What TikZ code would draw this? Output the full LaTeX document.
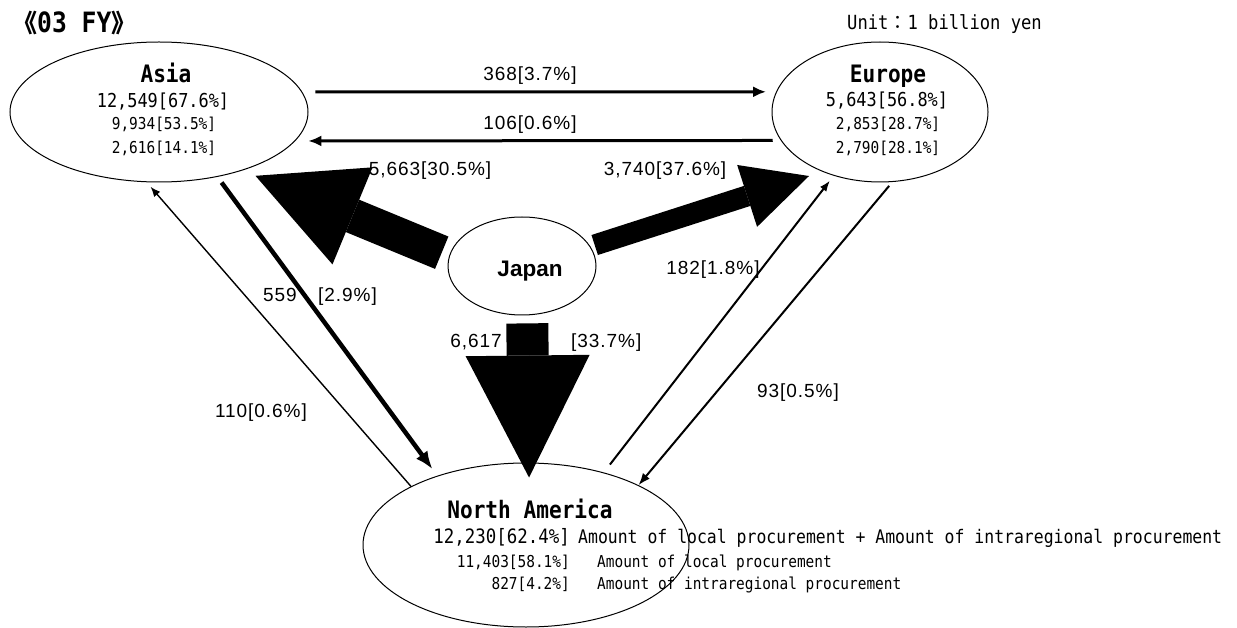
\documentclass[tikz,border=0pt]{standalone}
\usepackage{fontspec}
\usetikzlibrary{arrows.meta,shapes.geometric}
\setmainfont{Liberation Sans}
\newfontfamily\gothic[FakeStretch=0.88]{DejaVu Sans Mono}
\newfontfamily\arialsp[LetterSpace=5]{Liberation Sans}
\newfontfamily\cjk{Noto Sans CJK JP}
\begin{document}
\begin{tikzpicture}[x=1pt,y=-1pt,
  region/.style={ellipse, draw, line width=1pt, inner sep=0pt},
  lbl/.style={inner sep=0pt, anchor=base, font=\arialsp\fontsize{19}{19}\selectfont},
  title/.style={inner sep=0pt, anchor=base, font=\gothic\bfseries\fontsize{24}{24}\selectfont},
  bignum/.style={inner sep=0pt, anchor=base, font=\gothic\fontsize{19.2}{19.2}\selectfont},
  smallnum/.style={inner sep=0pt, anchor=base, font=\gothic\fontsize{16.4}{16.4}\selectfont},
  bigflow/.style={line width=#1, draw=black},
  thin/.style={line width=#1, draw=black}
]
\useasboundingbox (0,0) rectangle (1237,628);

% regions
\node[region, minimum width=298pt, minimum height=140pt] (asia) at (159,112) {};
\node[region, minimum width=216pt, minimum height=140pt] (eur) at (880,112) {};
\node[region, minimum width=148pt, minimum height=98pt] (japan) at (522,266) {};
\node[region, minimum width=326pt, minimum height=164pt] (na) at (526,545) {};

% headings
\node[inner sep=0pt, anchor=base west] (fy) at (12,33)
  {{\cjk\bfseries\fontsize{25}{25}\selectfont 《}{\gothic\bfseries\fontsize{28}{28}\selectfont 03 FY}{\cjk\bfseries\fontsize{25}{25}\selectfont 》}};
\node[inner sep=0pt, anchor=base west] (unit) at (847,30)
  {{\gothic\fontsize{19.5}{19.5}\selectfont Unit}{\cjk\fontsize{19}{19}\selectfont ：}{\gothic\fontsize{19.5}{19.5}\selectfont 1 billion yen}};

% Asia text
\node[title] (asiaT) at (166,83) {Asia};
\node[bignum] (asia1) at (163,108) {12,549[67.6\%]};
\node[smallnum] (asia2) at (164,130) {9,934[53.5\%]};
\node[smallnum] (asia3) at (164,154) {2,616[14.1\%]};

% Europe text
\node[title] (eurT) at (888,83) {Europe};
\node[bignum] (eur1) at (887,107) {5,643[56.8\%]};
\node[smallnum] (eur2) at (888,130) {2,853[28.7\%]};
\node[smallnum] (eur3) at (888,154) {2,790[28.1\%]};

% Japan
\node[inner sep=0pt, anchor=base, font=\bfseries\fontsize{22.5}{22.5}\selectfont] (japanT) at (530,277) {Japan};

% North America text
\node[title] (naT) at (530,518) {North America};
\node[inner sep=0pt, anchor=base east, font=\gothic\fontsize{19.8}{19.8}\selectfont] (na1) at (570,543) {12,230[62.4\%]};
\node[inner sep=0pt, anchor=base west, font=\gothic\fontsize{18.7}{18.7}\selectfont] (na1t) at (578,543) {Amount of local procurement + Amount of intraregional procurement};
\node[smallnum, anchor=base east] (na2) at (570,567) {11,403[58.1\%]};
\node[smallnum, anchor=base west] (na2t) at (597,567) {Amount of local procurement};
\node[smallnum, anchor=base east] (na3) at (570,589) {827[4.2\%]};
\node[smallnum, anchor=base west] (na3t) at (597,589) {Amount of intraregional procurement};

% big flows from Japan
\draw[bigflow=35pt, -{Triangle[length=105pt,width=105pt,line width=0pt]}, shorten <=8pt, shorten >=14pt] (japan.172) -- (asia.-35);
\draw[bigflow=21pt, -{Triangle[length=65pt,width=65pt,line width=0pt]}, shorten <=4.5pt, shorten >=14pt] (japan.16) -- (eur.-134);
\draw[bigflow=42pt, -{Triangle[length=122pt,width=124pt,line width=0pt]}, shorten <=8pt, shorten >=-15pt] (japan.-84) -- (na.88);

% inter-regional flows
\draw[thin=3pt, -{Latex[length=13pt,width=11pt]}, shorten <=13pt, shorten >=10pt] (asia.8) -- (eur.169);
\draw[thin=3pt, -{Latex[length=13pt,width=11pt]}, shorten <=8pt, shorten >=13pt] (eur.196) -- (asia.-12);
\draw[thin=4.5pt, -{Latex[length=18pt,width=14pt]}, shorten <=7pt, shorten >=8pt] (asia.-48) -- (na.142);
\draw[thin=1.4pt, -{Latex[length=10pt,width=8pt]}, shorten >=6pt] (na.153) -- (asia.-100);
\draw[thin=2pt, -{Latex[length=11pt,width=8pt]}, shorten <=10pt, shorten >=6pt] (na.43) -- (eur.-126);
\draw[thin=2pt, -{Latex[length=12pt,width=9pt]}, shorten <=5pt] (eur.-80) -- (na.28);

% flow labels
\node[lbl] (l368) at (530,81) {368[3.7\%]};
\node[lbl] (l106) at (530,130) {106[0.6\%]};
\node[lbl] (l5663) at (430,176) {5,663[30.5\%]};
\node[lbl] (l3740) at (665,176) {3,740[37.6\%]};
\node[lbl, anchor=base east] (l6617) at (502,348) {6,617};
\node[lbl, anchor=base west] (l337) at (571,348) {[33.7\%]};
\node[lbl, anchor=base west] (l559) at (263,302) {559};
\node[lbl, anchor=base west] (l29) at (318,302) {[2.9\%]};
\node[lbl] (l110) at (261,417) {110[0.6\%]};
\node[lbl] (l182) at (713,275) {182[1.8\%]};
\node[lbl] (l93) at (798,397) {93[0.5\%]};
\end{tikzpicture}
\end{document}
